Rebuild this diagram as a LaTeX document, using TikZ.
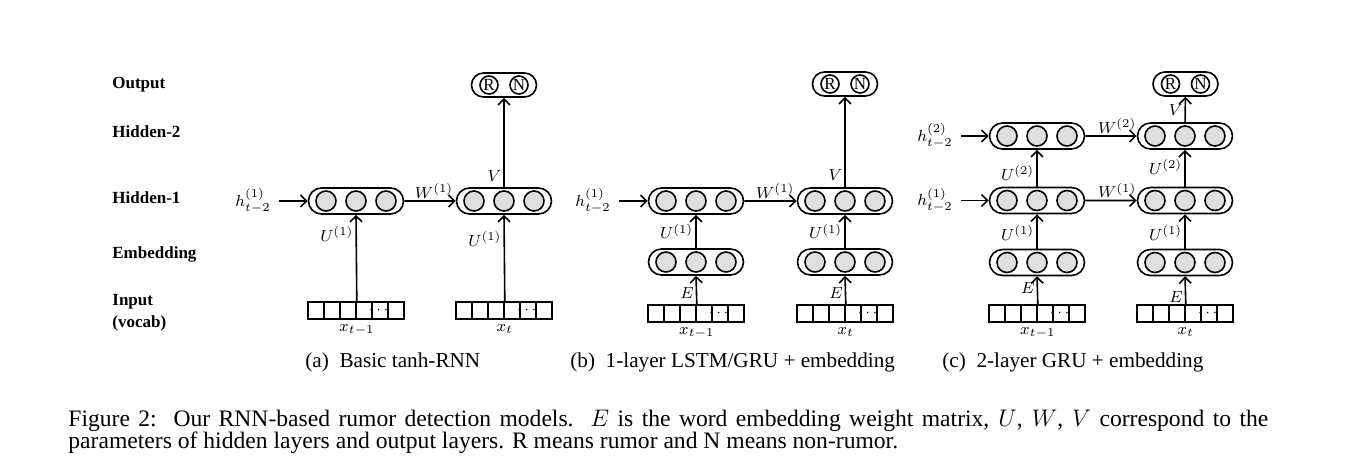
\documentclass[tikz,border=0pt]{standalone}
\usepackage{amsmath}
\usepackage{fontspec}
\setmainfont{Liberation Serif}
\usetikzlibrary{positioning,calc,shapes.misc,arrows.meta}

\tikzset{
  layer/.style={rounded rectangle, draw, thick, minimum width=47.5pt, minimum height=13pt, inner sep=0pt},
  unit/.style={circle, draw, thick, fill=gray!25, minimum size=10pt, inner sep=0pt},
  outlayer/.style={rounded rectangle, draw, thick, minimum width=32.5pt, minimum height=12pt, inner sep=0pt},
  cls/.style={circle, draw, thick, minimum size=9pt, inner sep=0pt, font=\fontsize{8.5}{8.5}\selectfont},
  cell/.style={rectangle, draw, thick, minimum width=8pt, minimum height=8.5pt, inner sep=0pt},
  conn/.style={thick, -{Straight Barb[length=3pt]}},
  rowlab/.style={anchor=west, inner sep=0pt, align=left, font=\fontsize{8.5}{11}\selectfont\bfseries},
  wlab/.style={inner sep=1pt, font=\fontsize{8}{9}\selectfont},
  sub/.style={anchor=west, inner sep=0pt, font=\fontsize{10.6}{12}\selectfont},
}

% a hidden/embedding layer: capsule with three units
\newcommand{\rnnlayer}[3]{%
  \node[layer] (#1) at (#2,#3) {};
  \foreach \k/\dx in {1/-30,2/0,3/30}
    \node[unit] (#1-\k) at ({#2+\dx},#3) {};
}
% output layer: R and N
\newcommand{\outnode}[3]{%
  \node[outlayer] (#1) at (#2,#3) {};
  \node[cls] (#1-r) at ({#2-15},#3) {R};
  \node[cls] (#1-n) at ({#2+15},#3) {N};
}
% one-hot input vector
\newcommand{\inbar}[3]{%
  \foreach \k in {1,...,6}
    \node[cell] (#1-\k) at ({#2+(\k-3.5)*16},#3) {};
  \node[inner sep=0pt, font=\fontsize{7}{7}\selectfont] (#1-dots) at (#1-5) {$\cdots$};
}

\begin{document}
\begin{tikzpicture}[x=0.5pt, y=-0.5pt]
  \useasboundingbox (0,0) rectangle (1356,467);

  % row labels
  \node[rowlab] (lab-out) at (112,85) {Output};
  \node[rowlab] (lab-h2) at (112,132) {Hidden-2};
  \node[rowlab] (lab-h1) at (112,198) {Hidden-1};
  \node[rowlab] (lab-emb) at (112,254) {Embedding};
  \node[rowlab] (lab-in) at (112,313) {Input\\(vocab)};

  % (a) basic tanh-RNN
  \rnnlayer{a-h1-l}{356}{201}
  \rnnlayer{a-h1-r}{504}{201}
  \outnode{a-out}{504}{85}
  \inbar{a-x-l}{356}{310.5}
  \inbar{a-x-r}{504}{310.5}
  \node[wlab] (a-h) at (253,201) {$h^{(1)}_{t-2}$};
  \draw[conn] ([xshift=3pt]a-h.east) -- (a-h1-l);
  \draw[conn] (a-x-l-3.north east) -- node[wlab, left, pos=0.78] (a-u-l) {$U^{(1)}$} (a-h1-l.south);
  \draw[conn] (a-x-r-3.north east) -- node[wlab, left, pos=0.72] (a-u-r) {$U^{(1)}$} (a-h1-r.south);
  \draw[conn] (a-h1-l) -- node[wlab, above, pos=0.58] (a-w) {$W^{(1)}$} (a-h1-r);
  \draw[conn] (a-h1-r) -- node[wlab, left, pos=0.13] (a-v) {$V$} (a-out);
  \node[wlab, below=1pt of a-x-l-3.south east] (a-xl) {$x_{t-1}$};
  \node[wlab, below=1pt of a-x-r-3.south east] (a-xr) {$x_{t}$};

  % (b) 1-layer LSTM/GRU + embedding
  \rnnlayer{b-h1-l}{696}{201}
  \rnnlayer{b-h1-r}{845}{201}
  \rnnlayer{b-e-l}{696}{262}
  \rnnlayer{b-e-r}{845}{262}
  \outnode{b-out}{845}{84}
  \inbar{b-x-l}{696}{313.5}
  \inbar{b-x-r}{845}{313.5}
  \node[wlab] (b-h) at (593,201) {$h^{(1)}_{t-2}$};
  \draw[conn] ([xshift=3pt]b-h.east) -- (b-h1-l);
  \draw[conn] (b-x-l-3.north east) -- node[wlab, left, pos=0.4] (b-e-lab-l) {$E$} (b-e-l.south);
  \draw[conn] (b-x-r-3.north east) -- node[wlab, left, pos=0.4] (b-e-lab-r) {$E$} (b-e-r.south);
  \draw[conn] (b-e-l) -- node[wlab, left, pos=0.5] (b-u-l) {$U^{(1)}$} (b-h1-l);
  \draw[conn] (b-e-r) -- node[wlab, left, pos=0.5] (b-u-r) {$U^{(1)}$} (b-h1-r);
  \draw[conn] (b-h1-l) -- node[wlab, above, pos=0.59] (b-w) {$W^{(1)}$} (b-h1-r);
  \draw[conn] (b-h1-r) -- node[wlab, left, pos=0.14] (b-v) {$V$} (b-out);
  \node[wlab, below=1pt of b-x-l-3.south east] (b-xl) {$x_{t-1}$};
  \node[wlab, below=1pt of b-x-r-3.south east] (b-xr) {$x_{t}$};

  % (c) 2-layer GRU + embedding
  \rnnlayer{c-h2-l}{1037}{136}
  \rnnlayer{c-h2-r}{1185}{136}
  \rnnlayer{c-h1-l}{1037}{200.5}
  \rnnlayer{c-h1-r}{1185}{200.5}
  \rnnlayer{c-e-l}{1037}{262.5}
  \rnnlayer{c-e-r}{1185}{262.5}
  \outnode{c-out}{1185.5}{84}
  \inbar{c-x-l}{1037}{313.5}
  \inbar{c-x-r}{1185}{313.5}
  \node[wlab] (c-h2) at (935,136) {$h^{(2)}_{t-2}$};
  \node[wlab] (c-h1) at (935,200.5) {$h^{(1)}_{t-2}$};
  \draw[conn] ([xshift=3pt]c-h2.east) -- (c-h2-l);
  \draw[conn] ([xshift=3pt]c-h1.east) -- (c-h1-l);
  \draw[conn] (c-x-l-3.north east) -- node[wlab, left, pos=0.57] (c-e-lab-l) {$E$} (c-e-l.south);
  \draw[conn] (c-x-r-3.north east) -- node[wlab, left, pos=0.27] (c-e-lab-r) {$E$} (c-e-r.south);
  \draw[conn] (c-e-l) -- node[wlab, left, pos=0.46] (c-u1-l) {$U^{(1)}$} (c-h1-l);
  \draw[conn] (c-e-r) -- node[wlab, left, pos=0.46] (c-u1-r) {$U^{(1)}$} (c-h1-r);
  \draw[conn] (c-h1-l) -- node[wlab, left, pos=0.38] (c-u2-l) {$U^{(2)}$} (c-h2-l);
  \draw[conn] (c-h1-r) -- node[wlab, left, pos=0.54] (c-u2-r) {$U^{(2)}$} (c-h2-r);
  \draw[conn] (c-h1-l) -- node[wlab, above, pos=0.62] (c-w1) {$W^{(1)}$} (c-h1-r);
  \draw[conn] (c-h2-l) -- node[wlab, above, pos=0.62] (c-w2) {$W^{(2)}$} (c-h2-r);
  \draw[conn] (c-h2-r) -- node[wlab, left, pos=0.46] (c-v) {$V$} (c-out);
  \node[wlab, below=1pt of c-x-l-3.south east] (c-xl) {$x_{t-1}$};
  \node[wlab, below=1pt of c-x-r-3.south east] (c-xr) {$x_{t}$};

  % sub-captions
  \node[sub] (cap-a) at (305,362) {(a)\enskip Basic tanh-RNN};
  \node[sub] (cap-b) at (570,362) {(b)\enskip 1-layer LSTM/GRU + embedding};
  \node[sub] (cap-c) at (942,362) {(c)\enskip 2-layer GRU + embedding};

  % figure caption
  \node[anchor=north west, inner sep=0pt, text width=600pt, align=justify,
        font=\fontsize{11.8}{11}\selectfont] (fig-cap) at (68,410)
    {Figure 2:\ \ Our RNN-based rumor detection models.\ \ $E$ is the word embedding weight matrix, $U$, $W$, $V$ correspond to the\linebreak
     parameters of hidden layers and output layers. R means rumor and N means non-rumor.};
\end{tikzpicture}
\end{document}
